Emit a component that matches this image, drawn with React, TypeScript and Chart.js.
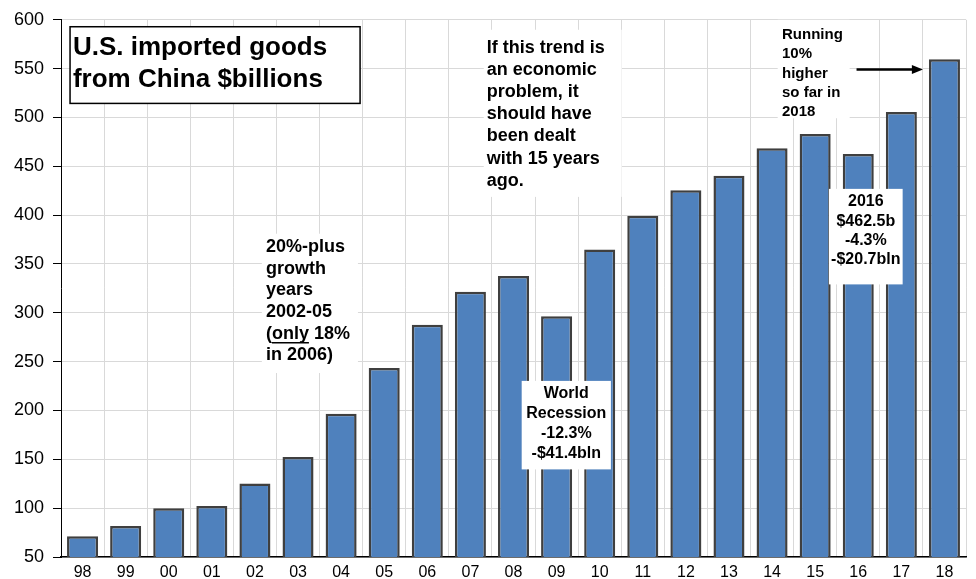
import React, { useEffect, useRef } from 'react';
import { Chart, registerables } from 'chart.js';

Chart.register(...registerables);

// ---- data ----
const YEARS = ['98', '99', '00', '01', '02', '03', '04', '05', '06', '07', '08', '09', '10', '11', '12', '13', '14', '15', '16', '17', '18'];
const IMPORTS = [71.2, 81.8, 100.0, 102.3, 125.2, 152.4, 196.7, 243.5, 287.8, 321.5, 337.8, 296.4, 364.9, 399.4, 425.6, 440.4, 468.5, 483.2, 462.5, 505.5, 559.5];
const Y_MIN = 50;
const Y_MAX = 600;
const Y_STEP = 50;

const TITLE_LINES = ['U.S. imported goods', 'from China $billions'];
const TREND_LINES = ['If this trend is', 'an economic', 'problem, it', 'should have', 'been dealt', 'with 15 years', 'ago.'];
const GROWTH_LINES = ['20%-plus', 'growth', 'years', '2002-05', '(_only_ 18%', 'in 2006)'];
const RECESSION_LINES = ['World', 'Recession', '-12.3%', '-$41.4bln'];
const Y2016_LINES = ['2016', '$462.5b', '-4.3%', '-$20.7bln'];
const RUNNING_LINES = ['Running', '10%', 'higher', 'so far in', '2018'];

const FONT = "'Liberation Sans', Arial, Helvetica, sans-serif";

// Notes anchored in data units (category index for x, value for y)
const NOTES = [
  { lines: TITLE_LINES, x0: -0.29, x1: 6.44, y0: 592.9, y1: 514.4, border: true, size: 26, lh: 32, align: 'left', tx: -0.223, ty: 571.5 },
  { lines: TREND_LINES, x0: 9.31, x1: 12.51, y0: 589.8, y1: 418.7, border: false, size: 18, lh: 22.2, align: 'left', tx: 9.38, ty: 571.5 },
  { lines: GROWTH_LINES, x0: 4.16, x1: 6.39, y0: 381, y1: 238.4, border: false, size: 18, lh: 21.7, align: 'left', tx: 4.255, ty: 367.4 },
  { lines: RECESSION_LINES, x0: 10.19, x1: 12.26, y0: 230.3, y1: 139.7, border: false, size: 16, lh: 20, align: 'center', tx: 11.225, ty: 217.1 },
  { lines: Y2016_LINES, x0: 17.32, x1: 19.03, y0: 426.9, y1: 329.1, border: false, size: 16, lh: 19.4, align: 'center', tx: 18.175, ty: 413.6 },
  { lines: RUNNING_LINES, x0: 16.13, x1: 17.8, y0: 600, y1: 499.2, border: false, size: 15, lh: 19.3, align: 'left', tx: 16.23, ty: 584.5 },
];
const ARROW = { x0: 17.96, x1: 19.5, y: 549 };

const notesPlugin = {
  id: 'notes',
  afterDatasetsDraw(chart: any) {
    const { ctx } = chart;
    const xs = chart.scales.x;
    const ys = chart.scales.y;
    ctx.save();
    for (const n of NOTES) {
      const l = xs.getPixelForValue(n.x0);
      const r = xs.getPixelForValue(n.x1);
      const t = ys.getPixelForValue(n.y0);
      const b = ys.getPixelForValue(n.y1);
      ctx.fillStyle = '#ffffff';
      ctx.fillRect(l, t, r - l, b - t);
      if (n.border) {
        ctx.strokeStyle = '#000000';
        ctx.lineWidth = 1.5;
        ctx.strokeRect(l, t, r - l, b - t);
      }
      ctx.font = `bold ${n.size}px ${FONT}`;
      ctx.fillStyle = '#000000';
      ctx.textBaseline = 'middle';
      const tx = xs.getPixelForValue(n.tx);
      let cy = ys.getPixelForValue(n.ty);
      for (const line of n.lines) {
        if (n.align === 'center') {
          ctx.textAlign = 'center';
          ctx.fillText(line.replace(/_/g, ''), tx, cy);
        } else {
          ctx.textAlign = 'left';
          const parts = line.split('_');
          let px = tx;
          parts.forEach((p: string, i: number) => {
            ctx.fillText(p, px, cy);
            const w = ctx.measureText(p).width;
            if (i % 2 === 1) {
              ctx.strokeStyle = '#000';
              ctx.lineWidth = 1.5;
              ctx.beginPath();
              ctx.moveTo(px, cy + n.size * 0.5);
              ctx.lineTo(px + w, cy + n.size * 0.5);
              ctx.stroke();
            }
            px += w;
          });
        }
        cy += n.lh;
      }
    }
    // arrow
    const ax0 = xs.getPixelForValue(ARROW.x0);
    const ax1 = xs.getPixelForValue(ARROW.x1);
    const ay = ys.getPixelForValue(ARROW.y);
    ctx.strokeStyle = '#000';
    ctx.fillStyle = '#000';
    ctx.lineWidth = 2.5;
    ctx.beginPath();
    ctx.moveTo(ax0, ay);
    ctx.lineTo(ax1 - 9, ay);
    ctx.stroke();
    ctx.beginPath();
    ctx.moveTo(ax1, ay);
    ctx.lineTo(ax1 - 11, ay - 4.5);
    ctx.lineTo(ax1 - 11, ay + 4.5);
    ctx.closePath();
    ctx.fill();
    ctx.restore();
  },
};

export default function App() {
  const ref = useRef<HTMLCanvasElement | null>(null);
  useEffect(() => {
    if (!ref.current) return;
    Chart.defaults.font.family = FONT;
    Chart.defaults.color = '#000';
    const chart = new Chart(ref.current, {
      type: 'bar',
      data: {
        labels: YEARS,
        datasets: [
          {
            data: IMPORTS,
            backgroundColor: '#4f81bd',
            borderColor: '#3f3f3f',
            borderWidth: 2.5,
            barPercentage: 0.72,
            categoryPercentage: 1,
          },
        ],
      },
      options: {
        responsive: false,
        animation: false,
        devicePixelRatio: 1,
        layout: { padding: { left: 0, right: 10, top: 17, bottom: 0 } },
        plugins: { legend: { display: false }, tooltip: { enabled: false } },
        scales: {
          x: {
            grid: { color: '#d9d9d9', lineWidth: 1, drawTicks: false, offset: true },
            border: { color: '#000', width: 1.5 },
            ticks: { font: { size: 16 }, color: '#000', padding: 6, maxRotation: 0, autoSkip: false },
            afterFit: (s: any) => {
              s.height = 22;
            },
          },
          y: {
            min: Y_MIN,
            max: Y_MAX,
            grid: { color: '#d9d9d9', lineWidth: 1, tickColor: '#000', tickLength: 8 },
            border: { color: '#000', width: 1 },
            ticks: { stepSize: Y_STEP, font: { size: 18 }, color: '#000', padding: 9 },
            afterFit: (s: any) => {
              s.width = 61;
            },
          },
        },
      },
      plugins: [notesPlugin],
    });
    return () => chart.destroy();
  }, []);
  return (
    <div style={{ position: 'absolute', left: 0, top: 0, width: 976, height: 579, background: '#fff' }}>
      <canvas ref={ref} width={976} height={579} style={{ display: 'block' }} />
    </div>
  );
}
